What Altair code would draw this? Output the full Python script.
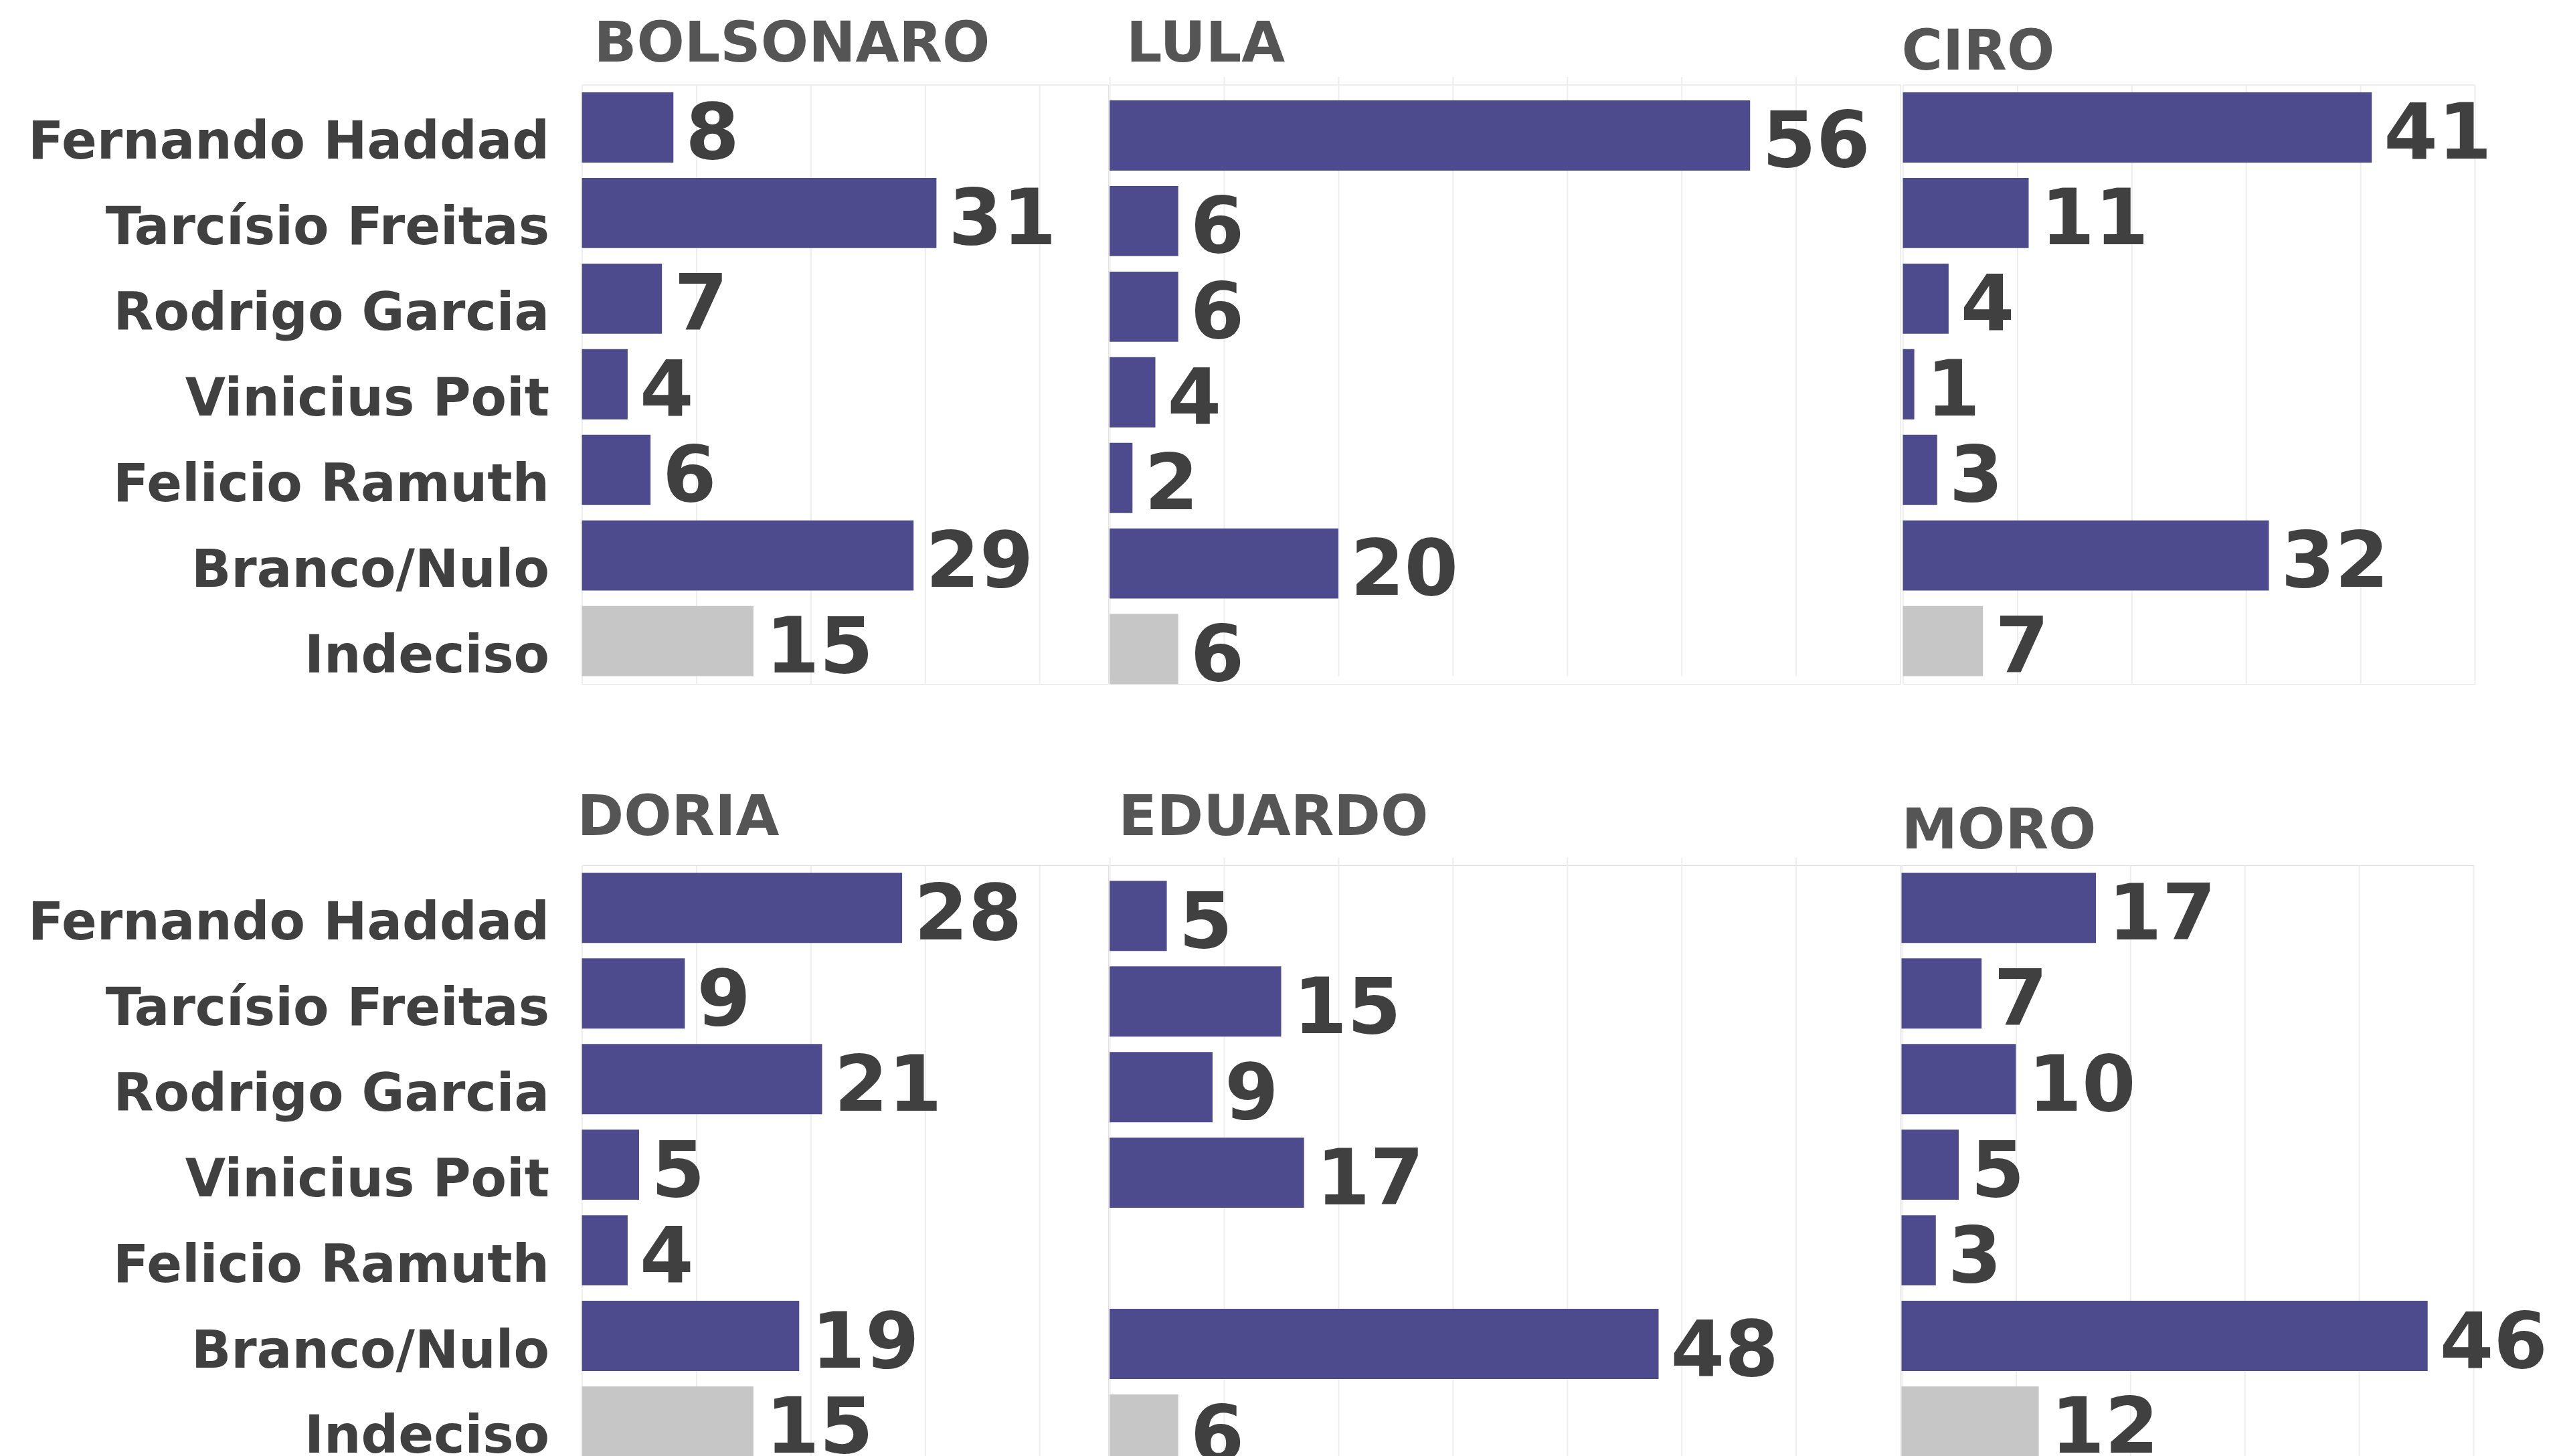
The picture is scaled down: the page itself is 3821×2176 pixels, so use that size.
import altair as alt
import pandas as pd

candidates = ["Fernando Haddad", "Tarcísio Freitas", "Rodrigo Garcia", "Vinicius Poit",
              "Felicio Ramuth", "Branco/Nulo", "Indeciso"]
bolsonaro = [8, 31, 7, 4, 6, 29, 15]
lula = [56, 6, 6, 4, 2, 20, 6]
ciro = [41, 11, 4, 1, 3, 32, 7]
doria = [28, 9, 21, 5, 4, 19, 15]
eduardo = [5, 15, 9, 17, None, 48, 6]
moro = [17, 7, 10, 5, 3, 46, 12]
panel_titles = ["BOLSONARO", "LULA", "CIRO", "DORIA", "EDUARDO", "MORO"]
x_max = [40, 60, 50, 40, 60, 50]

PX = 17.1
H = 896
GAP1 = 103  # px between 1st and 2nd plot areas
GAP2 = 156  # px between 2nd and 3rd plot areas
PURPLE = "#4e4a8e"
GREY = "#c6c6c6"
TXT = "#404040"
FONT = "DejaVu Sans"
TSHIFT = -83


def panel(title, values, xmax, gap, show_labels, tdx, toff, yshift=0):
    df = pd.DataFrame({"cand": candidates, "v": values}).dropna()
    df["kind"] = ["und" if c == "Indeciso" else "cand" for c in df["cand"]]
    yscale = alt.Scale(domain=candidates, paddingInner=0.18, paddingOuter=0.09,
                       range=[yshift, H + yshift])
    if show_labels:
        yaxis = alt.Axis(title=None, ticks=False, domain=False, labelFont=FONT,
                         labelFontSize=78, labelFontWeight="bold", labelColor=TXT,
                         labelPadding=49, labelLimit=3000, labelBaseline="alphabetic",
                         labelOffset=47)
    else:
        yaxis = None
    dom_max = xmax + gap / PX
    y = alt.Y("cand:N", sort=candidates, scale=yscale, axis=yaxis)
    x = alt.X("v:Q", scale=alt.Scale(domain=[0, dom_max], nice=False, zero=True),
              axis=alt.Axis(values=list(range(0, xmax + 1, 10)), labels=False, ticks=False,
                            domain=False, grid=True, gridColor="#eeeeee", gridWidth=2,
                            title=None))
    bars = alt.Chart(df).mark_bar().encode(
        x=x, y=y,
        color=alt.Color("kind:N", scale=alt.Scale(domain=["cand", "und"], range=[PURPLE, GREY]),
                        legend=None),
    )
    text = alt.Chart(df).mark_text(
        align="left", baseline="alphabetic", dx=18, dy=47, font=FONT, fontSize=116,
        fontWeight="bold", color=TXT,
    ).encode(x="v:Q", y=alt.Y("cand:N", sort=candidates, scale=yscale, axis=yaxis),
             text=alt.Text("v:Q", format="d"))
    return alt.layer(bars, text).properties(
        width=dom_max * PX, height=H,
        title=alt.TitleParams(text=title, anchor="start", frame="group", font=FONT,
                              fontSize=84, fontWeight="bold", color="#555555", dx=tdx,
                              offset=toff + TSHIFT, baseline="bottom"),
    )


p = [
    panel(panel_titles[0], bolsonaro, x_max[0], GAP1, True, 18, 16),
    panel(panel_titles[1], lula, x_max[1], GAP2, False, 25, 16, 12),
    panel(panel_titles[2], ciro, x_max[2], 0, False, -2, 4),
    panel(panel_titles[3], doria, x_max[3], GAP1, True, -7, 26),
    panel(panel_titles[4], eduardo, x_max[4], GAP2, False, 13, 26, 12),
    panel(panel_titles[5], moro, x_max[5], 0, False, 0, 6),
]

row1 = alt.hconcat(p[0], p[1], p[2], spacing=0)
row2 = alt.hconcat(p[3], p[4], p[5], spacing=0)

chart = alt.vconcat(row1, row2, spacing=139).properties(
    padding={"left": 32, "top": 15, "right": 5, "bottom": 0}
).configure_view(stroke=None).configure(background="white")

chart.save("out.html", embed_options={"renderer": "svg", "actions": False})
